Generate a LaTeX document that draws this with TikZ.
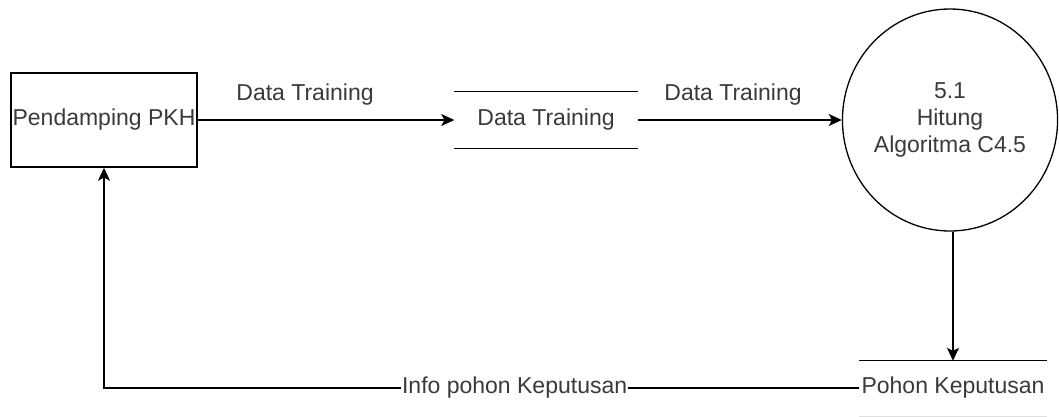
\documentclass[tikz,border=0pt]{standalone}
\usepackage{fontspec}
\setmainfont{Liberation Sans}
\usetikzlibrary{shapes.geometric,arrows.meta}
\definecolor{txt}{HTML}{3A3A3A}
\begin{document}
\begin{tikzpicture}[x=1pt,y=-1pt,
  every node/.style={font=\fontsize{23}{27}\selectfont, text=txt},
  entity/.style={draw, line width=1.4pt, rectangle, minimum width=186pt, minimum height=94pt, inner sep=0pt},
  store/.style={minimum height=56pt, inner sep=0pt},
  proc/.style={draw, line width=1.3pt, ellipse, minimum width=213pt, minimum height=222pt, align=center, inner sep=0pt},
  flow/.style={line width=1.4pt, -{Stealth[length=13pt,width=12pt,inset=3pt]}},
  lbl/.style={inner sep=1pt}]
  \useasboundingbox (0,0) rectangle (1059,416);

  % external entity
  \node[entity] (pkh) at (104,120) {Pendamping PKH};

  % data store
  \node[store, minimum width=183pt] (ds1) at (546,120) {Data Training};
  \draw[line width=1.3pt] (ds1.north west) -- (ds1.north east);
  \draw[line width=1.3pt] (ds1.south west) -- (ds1.south east);

  % process
  \node[proc] (p51) at (950,120) {5.1\\Hitung\\Algoritma C4.5};

  % output store
  \node[store, minimum width=188pt, minimum height=54pt] (ds2) at (953,388) {Pohon Keputusan};
  \draw[line width=1.3pt] (ds2.north west) -- (ds2.north east);
  \draw[line width=1pt, black!12] ([yshift=-1pt]ds2.south west) -- ([yshift=-1pt]ds2.south east);

  % flows
  \draw[flow] (pkh.east) -- (ds1.west);
  \node[lbl] (l1) at (305,95) {Data Training};

  \draw[flow] (ds1.east) -- (p51.west);
  \node[lbl] (l2) at (733,95) {Data Training};

  \draw[flow] (ds2.north |- p51.south) -- (ds2.north);

  \draw[flow] (ds2.west) -| (pkh.south)
    node[pos=0.228, fill=white, inner sep=1pt] (l3) {Info pohon Keputusan};
\end{tikzpicture}
\end{document}
